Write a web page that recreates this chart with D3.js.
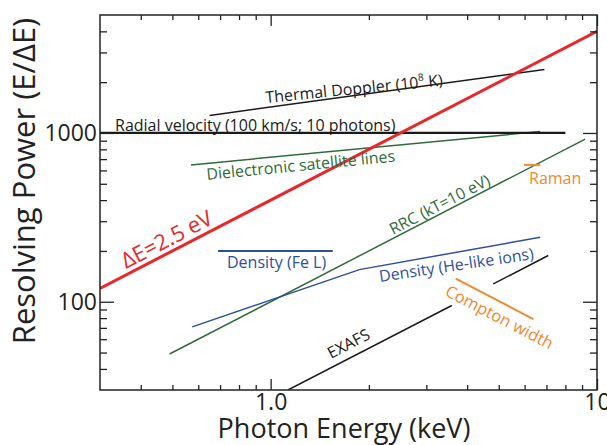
<!DOCTYPE html>
<html><head><meta charset="utf-8">
<script src="https://cdn.jsdelivr.net/npm/d3@7"></script>
<style>
html,body{margin:0;padding:0;background:#fff;}
svg text{font-family:"Open Sans","Noto Sans",sans-serif;}
</style></head>
<body><svg id="c" width="607" height="445"></svg>
<script>
// ---- data (photon energy keV, resolving power E/ΔE) ----
const deltaE25 = [[0.3,120],[10,4000]];
const thermalDoppler = [[0.65,1270],[6.9,2380]];
const radialVelocity = [[0.3,1000],[8.0,1000]];
const dielectronic = [[0.57,647],[6.7,1020]];
const rrc = [[0.49,49],[9.2,920]];
const densityFeL = [[0.69,200],[1.55,200]];
const densityHeLike = [[0.575,71],[1.87,155],[6.7,241]];
const exafsA = [[1.13,30],[3.59,95]];
const exafsB = [[4.81,127.5],[7.09,188]];
const compton = [[3.69,137],[6.38,79]];
const raman = [[5.97,647],[6.7,647]];

const xMajor = [1,10];
const xMajorLabels = ["1.0","10"];
const xMinor = [0.4,0.5,0.6,0.7,0.8,0.9,2,3,4,5,6,7,8,9];
const yMajor = [100,1000];
const yMajorLabels = ["100","1000"];
const yMinor = [40,50,60,70,80,90,200,300,400,500,600,700,800,900,2000,3000,4000];

// ---- layout ----
const L=100, R=597, T=15, B=390;
const svg = d3.select("#c");
const x = d3.scaleLog().domain([0.3,10]).range([L,R]);
const y = d3.scaleLog().domain([30,5000]).range([B,T]);
const line = d3.line().x(d=>x(d[0])).y(d=>y(d[1]));

svg.append("clipPath").attr("id","clip").append("rect")
  .attr("x",L).attr("y",T).attr("width",R-L).attr("height",B-T);
const g = svg.append("g").attr("clip-path","url(#clip)");

function path(data,color,w){
  g.append("path").datum(data).attr("d",line).attr("fill","none")
   .attr("stroke",color).attr("stroke-width",w);
}
const BLACK="#1a1a1a", GREEN="#2f6b38", BLUE="#2d4f9e", ORANGE="#f0892f", RED="#e8262b";
path(thermalDoppler,BLACK,1.5);
path(dielectronic,GREEN,1.5);
path(rrc,GREEN,1.5);
path(densityFeL,BLUE,2);
path(densityHeLike,BLUE,1.5);
path(exafsA,BLACK,1.5);
path(exafsB,BLACK,1.5);
path(compton,ORANGE,2);
path(raman,ORANGE,2);
path(radialVelocity,BLACK,2.2);
path(deltaE25,RED,3);

// ---- axes ----
const axColor="#222";
function styleAxis(sel){
  sel.select(".domain").remove();
  sel.selectAll("line").attr("stroke",axColor).attr("stroke-width",1.3);
  sel.selectAll("text").attr("fill","#222").style("font-size","23px");
}
svg.append("g").attr("transform",`translate(0,${B})`)
  .call(d3.axisBottom(x).tickValues(xMajor).tickSize(-11).tickPadding(4).tickFormat((d,i)=>xMajorLabels[i]))
  .call(styleAxis);
svg.append("g").attr("transform",`translate(0,${B})`)
  .call(d3.axisBottom(x).tickValues(xMinor).tickSize(-5).tickFormat(""))
  .call(styleAxis);
svg.append("g").attr("transform",`translate(0,${T})`)
  .call(d3.axisTop(x).tickValues(xMajor).tickSize(-11).tickFormat(""))
  .call(styleAxis);
svg.append("g").attr("transform",`translate(0,${T})`)
  .call(d3.axisTop(x).tickValues(xMinor).tickSize(-5).tickFormat(""))
  .call(styleAxis);
svg.append("g").attr("transform",`translate(${L},0)`)
  .call(d3.axisLeft(y).tickValues(yMajor).tickSize(-14).tickPadding(3).tickFormat((d,i)=>yMajorLabels[i]))
  .call(styleAxis);
svg.append("g").attr("transform",`translate(${L},0)`)
  .call(d3.axisLeft(y).tickValues(yMinor).tickSize(-7).tickFormat(""))
  .call(styleAxis);
svg.append("g").attr("transform",`translate(${R},0)`)
  .call(d3.axisRight(y).tickValues(yMajor).tickSize(-14).tickFormat(""))
  .call(styleAxis);
svg.append("g").attr("transform",`translate(${R},0)`)
  .call(d3.axisRight(y).tickValues(yMinor).tickSize(-7).tickFormat(""))
  .call(styleAxis);
svg.append("rect").attr("x",L).attr("y",T).attr("width",R-L).attr("height",B-T)
  .attr("fill","none").attr("stroke",axColor).attr("stroke-width",1.5);

// ---- axis titles ----
svg.append("text").attr("x",344).attr("y",438).attr("text-anchor","middle")
  .style("font-size","27px").attr("fill","#222").text("Photon Energy (keV)");
svg.append("text").attr("transform","translate(35,181) rotate(-90)").attr("text-anchor","middle")
  .style("font-size","31px").attr("fill","#222").text("Resolving Power (E/ΔE)");

// ---- annotations ----
function label(px,py,rot,txt,color,size){
  return svg.append("text").attr("transform",`translate(${px},${py}) rotate(${rot})`)
    .attr("fill",color).style("font-size",size+"px").text(txt);
}
const td = label(266,103,-5.6,"Thermal Doppler (10","#1a1a1a",16);
td.append("tspan").attr("dy",-7).style("font-size","10px").text("8");
td.append("tspan").attr("dy",7).text(" K)");
label(115,131,0,"Radial velocity (100 km/s; 10 photons)","#1a1a1a",16);
label(207,180,-5.6,"Dielectronic satellite lines",GREEN,16);
label(126,269,-27.4,"ΔE=2.5 eV",RED,22);
label(393,235,-27.4,"RRC (kT=10 eV)",GREEN,16);
label(529,184,0,"Raman",ORANGE,16);
label(227,268,0,"Density (Fe L)",BLUE,16);
label(380,282,-8.5,"Density (He-like ions)",BLUE,16);
label(444,295,27.4,"Compton width",ORANGE,16.5);
label(331,359,-27.4,"EXAFS","#1a1a1a",16);
</script></body></html>
